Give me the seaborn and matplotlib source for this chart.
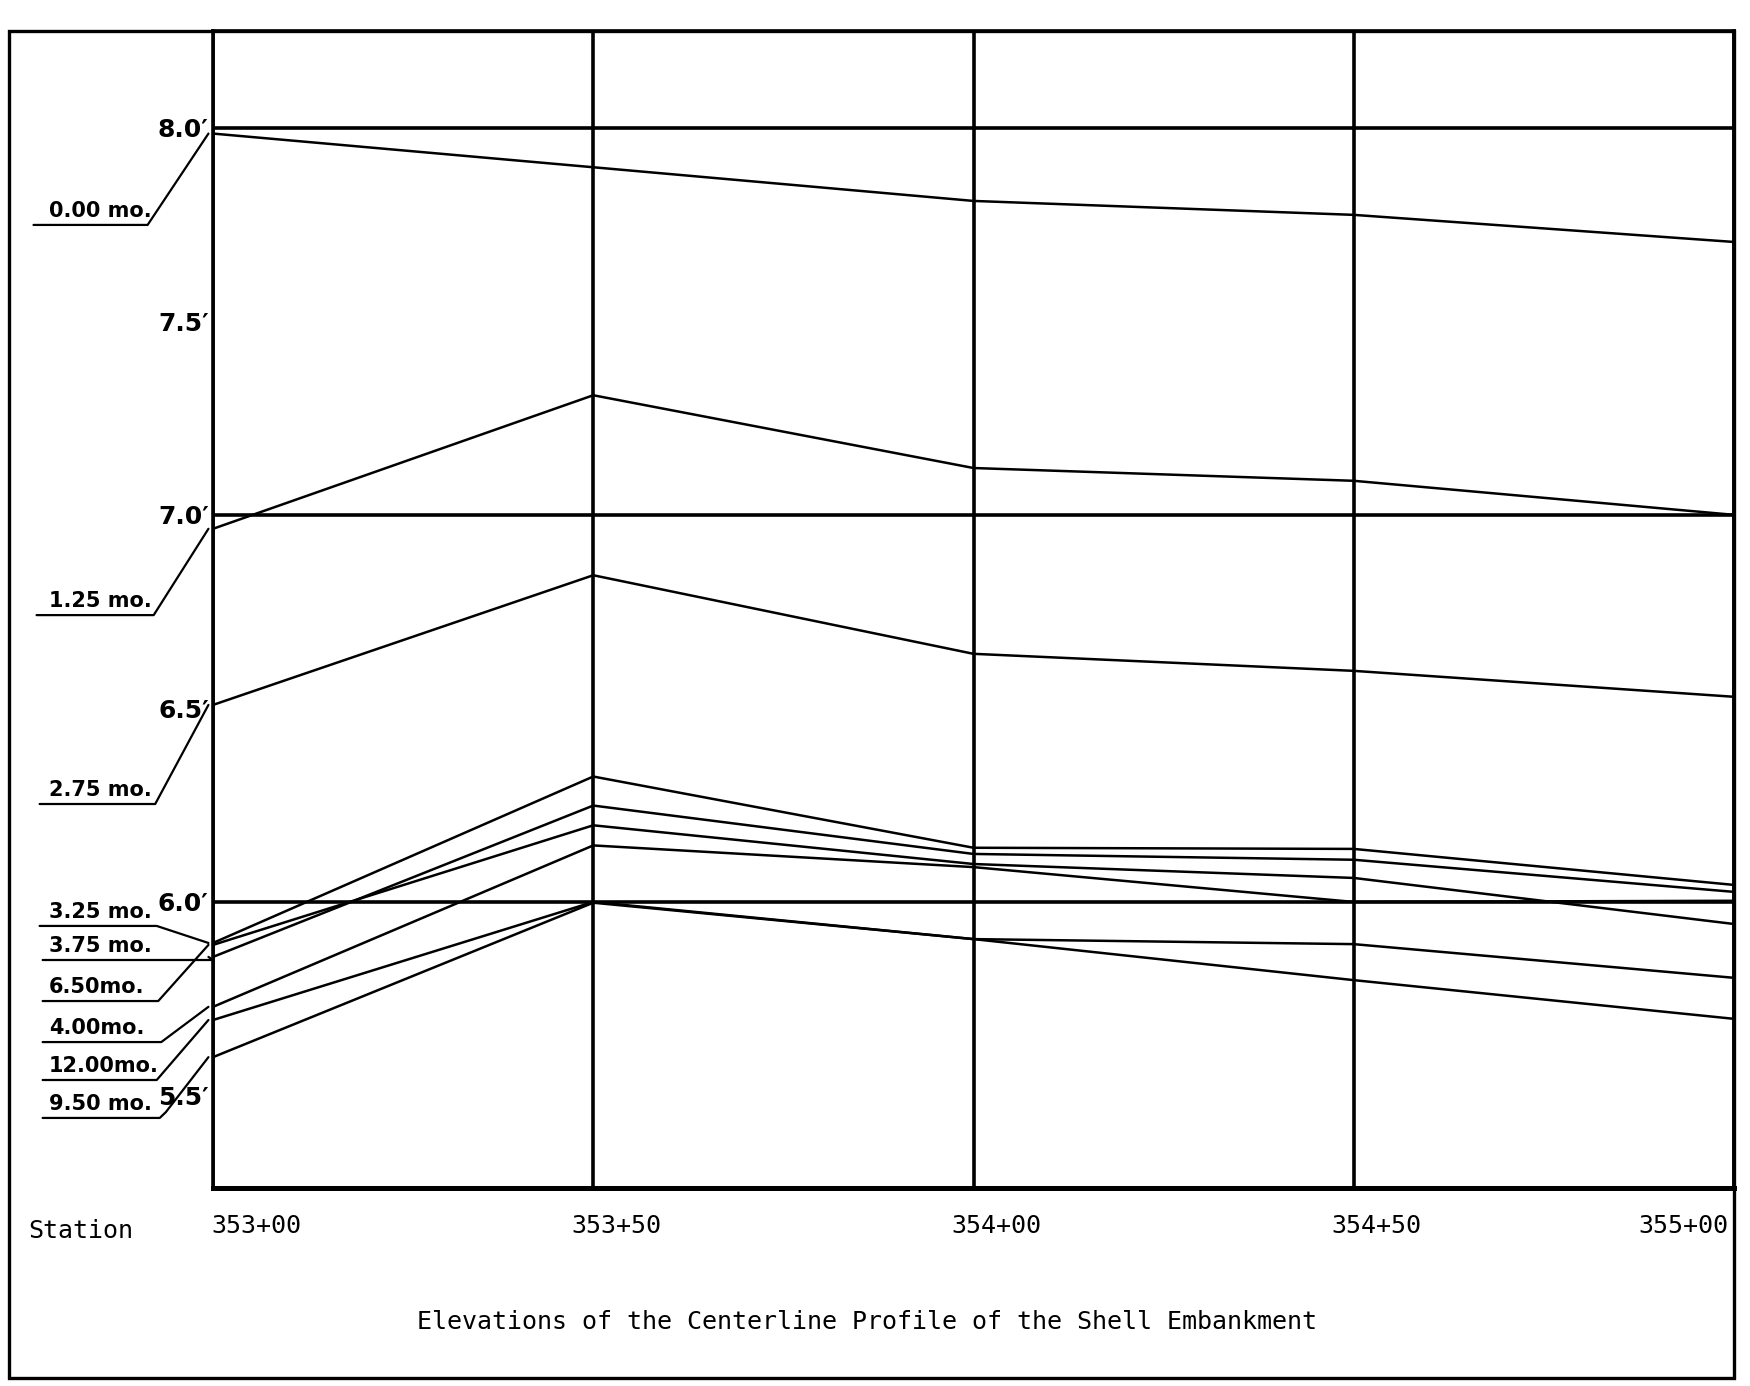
import numpy as np
import pandas as pd
import matplotlib
matplotlib.use("Agg")
import matplotlib.pyplot as plt
import seaborn as sns
from matplotlib.transforms import blended_transform_factory, ScaledTranslation
from matplotlib.patches import Rectangle

# ---------------- data ----------------
stations = [35300, 35350, 35400, 35450, 35500]
station_labels = ["353+00", "353+50", "354+00", "354+50", "355+00"]

month_labels = ["0.00 mo.", "1.25 mo.", "2.75 mo.", "3.25 mo.", "3.75 mo.",
                "6.50mo.", "4.00mo.", "12.00mo.", "9.50 mo."]

elev_0_00 = [7.985, 7.898, 7.811, 7.775, 7.705]
elev_1_25 = [6.964, 7.309, 7.121, 7.088, 7.000]
elev_2_75 = [6.509, 6.844, 6.641, 6.597, 6.530]
elev_3_25 = [5.894, 6.324, 6.140, 6.137, 6.044]
elev_3_75 = [5.858, 6.249, 6.124, 6.109, 6.026]
elev_6_50 = [5.889, 6.198, 6.098, 6.062, 5.943]
elev_4_00 = [5.729, 6.146, 6.090, 6.000, 6.003]
elev_12_00 = [5.695, 6.000, 5.904, 5.891, 5.804]
elev_9_50 = [5.599, 5.998, 5.904, 5.798, 5.698]

series = [elev_0_00, elev_1_25, elev_2_75, elev_3_25, elev_3_75,
          elev_6_50, elev_4_00, elev_12_00, elev_9_50]

ytick_values = [5.5, 6.0, 6.5, 7.0, 7.5, 8.0]
ytick_labels = ["5.5\u2032", "6.0\u2032", "6.5\u2032", "7.0\u2032", "7.5\u2032", "8.0\u2032"]
reference_levels = [6.0, 7.0, 8.0]

title_text = "Elevations of the Centerline Profile of the Shell Embankment"
axis_word = "Station"

# ---------------- frame ----------------
rows = []
for name, vals in zip(month_labels, series):
    for s, v in zip(stations, vals):
        rows.append({"station": s, "elevation": v, "month": name})
df = pd.DataFrame(rows)

sns.set_style("white")
plt.rcParams["font.family"] = ["DejaVu Sans"]
plt.rcParams["text.color"] = "black"
plt.rcParams["xtick.color"] = "black"
plt.rcParams["ytick.color"] = "black"

W, H = 1750, 1386
fig = plt.figure(figsize=(W / 100, H / 100), dpi=100)
fig.patch.set_facecolor("white")

ax_left, ax_right = 213 / W, 1734 / W
ax_bottom, ax_top = 1 - 1188 / H, 1 - 31 / H
ax = fig.add_axes([ax_left, ax_bottom, ax_right - ax_left, ax_top - ax_bottom])
ax.set_facecolor("white")

sns.lineplot(data=df, x="station", y="elevation", units="month", estimator=None,
             color="black", linewidth=1.8, sort=False, ax=ax, legend=False)

ax.set_xlim(stations[0], stations[-1])
ax.set_ylim(5.261, 8.25)

# vertical station lines
for s in stations:
    ax.axvline(s, color="black", lw=2.6, zorder=1)
# bold reference levels
for lv in reference_levels:
    ax.axhline(lv, color="black", lw=2.6, zorder=1)

for side in ["left", "right", "top"]:
    ax.spines[side].set_linewidth(2.6)
    ax.spines[side].set_color("black")
ax.spines["bottom"].set_linewidth(3.6)
ax.spines["bottom"].set_color("black")

ax.set_yticks(ytick_values)
ax.set_yticklabels(ytick_labels, fontsize=18, fontweight="bold", color="black")
ax.tick_params(axis="y", length=0, pad=3, labelcolor="black")

ax.set_xticks(stations)
ax.set_xticklabels(station_labels, fontsize=18, family="DejaVu Sans Mono", color="black")
ax.tick_params(axis="x", length=0, pad=19, labelcolor="black")
ax.set_xlabel("")
ax.set_ylabel("")

offsets_px = [43, 23, 23, 23, -6]
for lbl, dx in zip(ax.get_xticklabels(), offsets_px):
    if dx < 0:
        lbl.set_ha("right")
    lbl.set_transform(lbl.get_transform() + ScaledTranslation(dx / 100, 0, fig.dpi_scale_trans))

# ---------------- month labels with underline + leader ----------------
trans = blended_transform_factory(ax.transAxes, ax.transData)
# (underline y, underline x start, underline x end) in axes-fraction x / data y
label_layout = [
    (7.749, -0.118, -0.043),
    (6.741, -0.116, -0.039),
    (6.253, -0.114, -0.038),
    (5.938, -0.114, -0.037),
    (5.850, -0.112, 0.000),
    (5.744, -0.112, -0.036),
    (5.638, -0.112, -0.034),
    (5.540, -0.112, -0.037),
    (5.442, -0.112, -0.035),
]
for name, vals, (uy, x0, x1) in zip(month_labels, series, label_layout):
    xs = [x0, x1]
    ys = [uy, uy]
    if name.startswith("9.50"):
        xs += [-0.031]
        ys += [uy + 0.015]
    xs += [-0.003]
    ys += [vals[0]]
    ax.plot(xs, ys, transform=trans, color="black", lw=1.6, clip_on=False)
    ax.text(-0.108, uy + 0.010, name, transform=trans, ha="left", va="bottom",
            fontsize=15, fontweight="bold", color="black")

# ---------------- text ----------------
fig.text(28 / W, 1 - 1231 / H, axis_word, fontsize=18, family="DejaVu Sans Mono",
         ha="left", va="center", color="black")
fig.text(867 / W, 1 - 1322 / H, title_text, fontsize=18, family="DejaVu Sans Mono",
         ha="center", va="center", color="black")

# outer frame
fig.add_artist(Rectangle((9 / W, 1 - 1378 / H), ax_right - 9 / W, (1378 - 31) / H,
                         transform=fig.transFigure, fill=False, edgecolor="black",
                         lw=2.4))

fig.savefig("out.png", dpi=100, facecolor="white")
